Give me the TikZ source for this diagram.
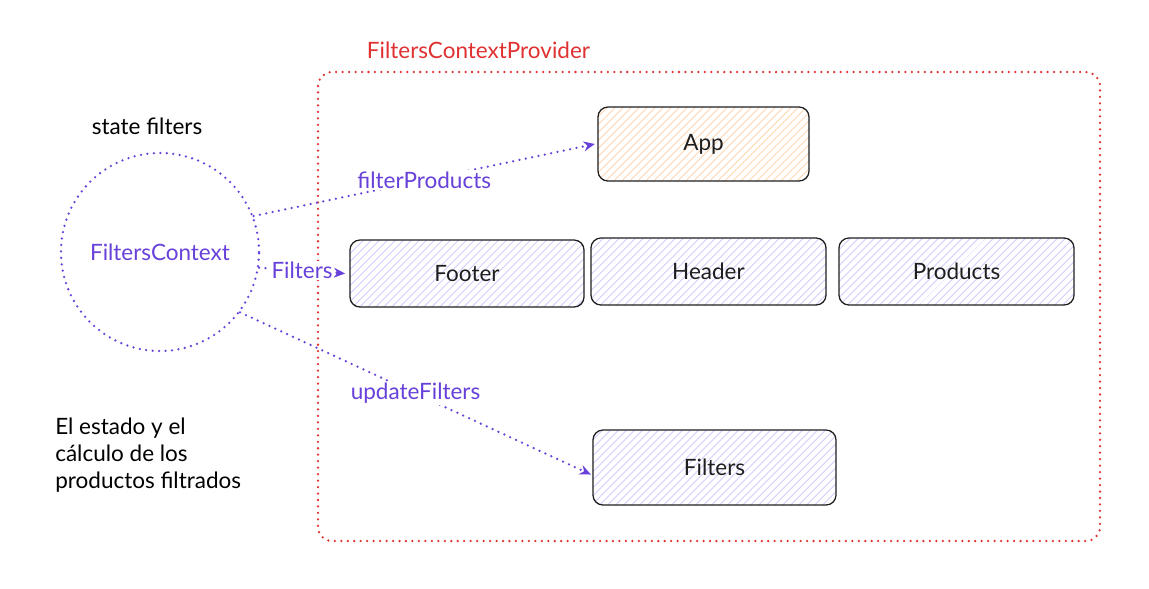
\documentclass[tikz,border=0pt]{standalone}
\usepackage{fontspec}
\setmainfont{Lato}
\usepackage{xcolor}
\usetikzlibrary{positioning,arrows.meta,patterns.meta}
\definecolor{ctxviolet}{HTML}{6741D9}
\definecolor{hatchviolet}{HTML}{C5B3FA}
\definecolor{hatchorange}{HTML}{FFC58A}
\definecolor{provred}{HTML}{E03131}
\definecolor{ink}{HTML}{1E1E1E}

\begin{document}
\begin{tikzpicture}[x=0.025cm, y=-0.025cm,
    every node/.style={font=\fontsize{16}{19}\selectfont},
    comp/.style={draw=ink, line width=0.9pt, rounded corners=0.25cm, text=ink,
        pattern={Lines[angle=45, distance=4pt, line width=0.5pt]}},
    violetcomp/.style={comp, pattern color=hatchviolet},
    orangecomp/.style={comp, pattern color=hatchorange},
    dots/.style={line width=1.8pt, line cap=round, dash pattern=on 0pt off 4.6pt},
    flow/.style={dots, ctxviolet, -{Stealth[length=8pt, width=7pt]}},
    flowlabel/.style={midway, fill=white, text=ctxviolet, inner sep=1pt}]
    \useasboundingbox (0,0) rectangle (1149,588);

    % Provider
    \draw[dots, provred, rounded corners=0.35cm] (318,72) rectangle (1100,541);
    \node[text=provred, anchor=west] (provlabel) at (362,50) {FiltersContextProvider};

    % Context
    \node[circle, dots, draw=ctxviolet, minimum size=4.95cm, text=ctxviolet] (ctx) at (160,252) {FiltersContext};
    \node (state) at (147,126) {state filters};
    \node[anchor=north west, align=left, inner sep=0pt] (note) at (55,418)
        {El estado y el\\cálculo de los\\productos filtrados};

    % Components
    \node[orangecomp, minimum width=5.275cm, minimum height=1.85cm] (app) at (703.5,144) {App};
    \node[violetcomp, minimum width=5.85cm, minimum height=1.675cm] (footer) at (467,273.5) {Footer};
    \node[violetcomp, minimum width=5.875cm, minimum height=1.675cm] (header) at (708.5,271.5) {Header};
    \node[violetcomp, minimum width=5.875cm, minimum height=1.675cm] (products) at (956.5,271.5) {Products};
    \node[violetcomp, minimum width=6.075cm, minimum height=1.875cm] (filters) at (714.5,467.5) {Filters};

    % Context values
    \draw[flow] (ctx.21) -- ([xshift=-2pt]app.west) node[flowlabel] {filterProducts};
    \draw[flow] (ctx.-9) -- ([xshift=-3pt]footer.west) node[flowlabel] {Filters};
    \draw[flow] (ctx.-37) -- ([xshift=-1pt, yshift=-5pt]filters.west) node[flowlabel] {updateFilters};
\end{tikzpicture}
\end{document}
